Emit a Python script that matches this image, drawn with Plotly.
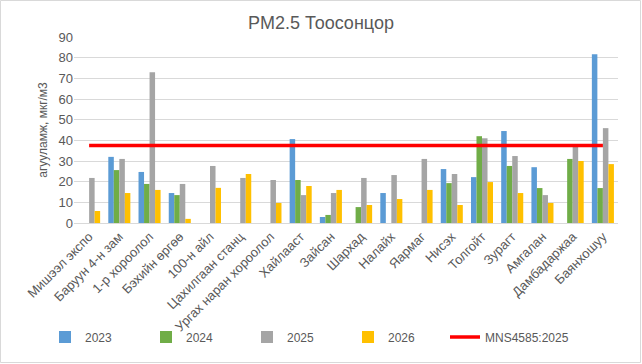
import plotly.graph_objects as go

categories = ["Мишээл экспо", "Баруун 4-н зам", "1-р хороолол", "Бэхийн өргөө", "100-н айл",
              "Цахилгаан станц", "Ургах наран хороолол", "Хайлааст", "Зайсан", "Шархад",
              "Налайх", "Яармаг", "Нисэх", "Толгойт", "Зурагт", "Амгалан", "Дамбадаржаа", "Баянхошуу"]
v2023 = [None, 32, 24.7, 14.5, None, None, None, 40.6, 2.9, None, 14.5, None, 26.1, 22.2, 44.5, 27, None, 81.6]
v2024 = [None, 25.6, 18.9, 13.5, None, None, None, 20.8, 3.9, 7.7, None, None, 19.3, 42, 27.6, 16.9, 31, 16.9]
v2025 = [21.8, 31, 73, 18.9, 27.6, 21.8, 20.8, 13.5, 14.5, 21.8, 23.2, 31, 23.7, 41, 32.4, 13.5, 37.2, 45.9]
v2026 = [5.8, 14.5, 16, 2, 17, 23.7, 9.7, 17.9, 16, 8.7, 11.6, 16, 8.7, 19.8, 14.5, 9.7, 30, 28.5]
mns_value = 37.5
mns = [mns_value] * len(categories)

series = [("2023", v2023, "#5b9bd5"), ("2024", v2024, "#70ad47"),
          ("2025", v2025, "#a5a5a5"), ("2026", v2026, "#ffc000")]

fig = go.Figure()
for name, vals, col in series:
    fig.add_trace(go.Bar(x=categories, y=vals, name=name, marker_color=col, marker_line_width=0))
fig.add_trace(go.Scatter(x=categories, y=mns, name="MNS4585:2025", mode="lines",
                         line=dict(color="#ff0000", width=3.5), legend="legend2"))

W, H = 642, 364
L, R, T, B = 74, 24, 37, 141
PW, PH = W - L - R, H - T - B
txt = "#595959"
leg_common = dict(orientation="h", xref="container", yref="container", xanchor="left",
                  y=1 - 337/H, yanchor="middle", font=dict(size=12, color=txt),
                  itemwidth=30, bgcolor="rgba(0,0,0,0)")
fig.update_layout(
    width=W, height=H, autosize=False,
    margin=dict(l=L, r=R, t=T, b=B),
    paper_bgcolor="white", plot_bgcolor="white",
    font=dict(family="Liberation Sans, Arial, sans-serif", color=txt, size=12),
    title=dict(text="PM2.5 Тоосонцор", x=0.5, xanchor="center", y=1 - 23/H, yanchor="middle",
               font=dict(size=18, color=txt)),
    barmode="group", bargap=0.27, bargroupgap=0,
    showlegend=True,
    legend=dict(x=45/W, entrywidth=56, traceorder="normal", **leg_common),
    legend2=dict(x=445/W, **leg_common),
    xaxis=dict(tickangle=-45, tickfont=dict(size=13, color=txt), showgrid=False,
               showline=True, linecolor="#d9d9d9", ticks="", automargin=False),
    yaxis=dict(range=[0, 90], dtick=10, showgrid=True, gridcolor="#d9d9d9", zeroline=False,
               tickfont=dict(size=13, color=txt), automargin=False,
               title=dict(text="агууламж, мкг/м3", font=dict(size=12, color=txt), standoff=8)),
    shapes=[dict(type="rect", xref="paper", yref="paper",
                 x0=(-L + 0.5)/PW, x1=1 + (R - 1.5)/PW, y0=(-B + 1.5)/PH, y1=1 + (T - 0.5)/PH,
                 line=dict(color="#d9d9d9", width=1), fillcolor="rgba(0,0,0,0)", layer="below")],
)
fig.write_html("out.html", config={"displayModeBar": False},
               post_script="document.body.style.margin='0';")
